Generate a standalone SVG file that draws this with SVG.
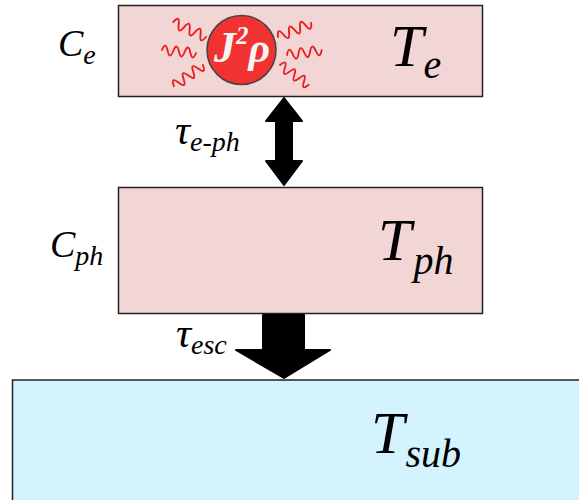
<svg xmlns="http://www.w3.org/2000/svg" width="579" height="500" viewBox="0 0 579 500">
<defs>
<style>
.box{fill:#f2d5d5;stroke:#222;stroke-width:1.5}
.sub{fill:#d3f4ff;stroke:#222;stroke-width:1.5}
.t{font-family:"Liberation Serif",serif;font-style:italic;fill:#000}
.w{fill:none;stroke:#f01c1c;stroke-width:1.9;stroke-linecap:round}
.ar{fill:#000;stroke:#000;stroke-width:2;stroke-linejoin:round}
</style>
<path id="wv" d="M0 0q3-10 6 0t6 0 6 0 6 0 6 0 6 0"/>
</defs>
<rect width="579" height="500" fill="#fff"/>
<g id="node-sub"><rect class="sub" x="12.500" y="380" width="570" height="125"/>
<text class="t" x="371" y="453" font-size="60">T<tspan font-size="40" dx="1" dy="14">sub</tspan></text></g>
<g id="node-te"><rect class="box" x="118.500" y="5.500" width="364" height="91"/>
<text class="t" x="390" y="66" font-size="60">T<tspan font-size="40" dx="0" dy="12">e</tspan></text></g>
<g id="node-tph"><rect class="box" x="118.500" y="187.500" width="364" height="126"/>
<text class="t" x="378" y="260" font-size="60">T<tspan font-size="40" dx="2" dy="14">ph</tspan></text></g>
<g id="heat" class="w">
<use href="#wv" transform="translate(206 37) rotate(-155.600)"/>
<use href="#wv" transform="translate(196 53) rotate(185) scale(.95)"/>
<use href="#wv" transform="translate(203 65) rotate(144)"/>
<use href="#wv" transform="translate(278 37) rotate(-23)"/>
<use href="#wv" transform="translate(287 55) rotate(-8) scale(.97)"/>
<use href="#wv" transform="translate(280 65) rotate(34.600) scale(.97)"/>
</g>
<g id="node-joule"><circle cx="241.500" cy="50" r="34.500" fill="#f23131" stroke="#444" stroke-width="1.500"/>
<text x="214" y="62" font-family="Liberation Serif,serif" font-style="italic" font-weight="bold" font-size="44" fill="#f4f4f4">J<tspan font-size="25" dy="-18" dx="0">2</tspan><tspan font-size="42" dy="18" dx="0">ρ</tspan></text></g>
<g id="connectors">
<path class="ar" d="M284 98L302 121H292V161H302L284 185L266 161H276V121H266Z"/>
<path class="ar" d="M263 315H304V350H330L284 378L236 350H263Z"/>
</g>
<g id="labels">
<text class="t" x="58" y="56" font-size="38">C<tspan font-size="28" dy="8">e</tspan></text>
<text class="t" x="50" y="257" font-size="38">C<tspan font-size="28" dy="8">ph</tspan></text>
<text class="t" x="175" y="144" font-size="42">τ<tspan font-size="28" dy="7">e-ph</tspan></text>
<text class="t" x="176" y="347" font-size="42">τ<tspan font-size="28" dy="7">esc</tspan></text>
</g>
</svg>
